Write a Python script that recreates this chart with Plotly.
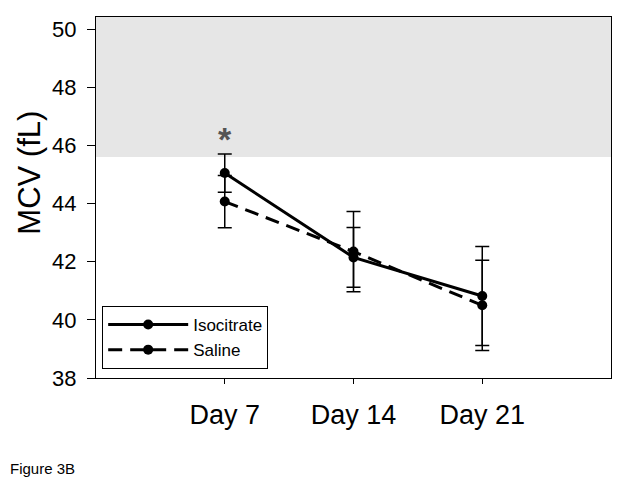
import plotly.graph_objects as go

days = ["Day 7", "Day 14", "Day 21"]
iso_vals = [45.05, 42.15, 40.82]
iso_err = [0.66, 1.03, 1.70]
sal_vals = [44.07, 42.35, 40.50]
sal_err = [0.90, 1.38, 1.55]
y_ticks = [38, 40, 42, 44, 46, 48, 50]
normal_top = 45.6

xpos = [1, 2, 3]

fig = go.Figure()
fig.add_shape(type="rect", xref="paper", yref="y", x0=0, x1=1, y0=normal_top, y1=50.42,
              fillcolor="#e6e6e6", line_width=0, layer="below")

fig.add_trace(go.Scatter(
    x=xpos, y=iso_vals, name="Isocitrate", mode="lines+markers",
    line=dict(color="black", width=3), marker=dict(color="black", size=10),
    error_y=dict(type="data", array=iso_err, color="black", thickness=1.5, width=7),
))
fig.add_trace(go.Scatter(
    x=xpos, y=sal_vals, name="Saline", mode="lines+markers",
    line=dict(color="black", width=3, dash="14px,8px"), marker=dict(color="black", size=10),
    error_y=dict(type="data", array=sal_err, color="black", thickness=1.5, width=7),
))

fig.add_annotation(x=1, y=46.22, text="<b>*</b>", showarrow=False, xref="x", yref="y",
                   font=dict(size=34, color="#555555", family="Arial"))
fig.add_annotation(x=-0.171, y=-0.25, xref="paper", yref="paper", text="Figure 3B",
                   showarrow=False, xanchor="left", yanchor="middle",
                   font=dict(size=15, color="black", family="Arial"))
fig.add_annotation(x=-0.128, y=0.569, xref="paper", yref="paper", text="MCV (fL)",
                   textangle=-90, showarrow=False, xanchor="center", yanchor="middle",
                   font=dict(size=31, color="black", family="Arial"))

fig.update_layout(
    width=616, height=478,
    margin=dict(l=88, r=13, t=9, b=108),
    plot_bgcolor="white", paper_bgcolor="white",
    font=dict(family="Arial", color="black"),
    showlegend=True,
    legend=dict(x=0.012, y=0.025, xanchor="left", yanchor="bottom",
                bordercolor="black", borderwidth=1, bgcolor="white",
                font=dict(size=17), itemwidth=80),
    xaxis=dict(range=[0, 4], tickvals=xpos, ticktext=days, showgrid=False, zeroline=False,
               showline=True, linecolor="black", linewidth=1, mirror=True, automargin=False,
               ticks="outside", ticklen=5, tickcolor="black", tickfont=dict(size=27),
               ticklabelstandoff=8),
    yaxis=dict(range=[38, 50.42], tickvals=y_ticks, showgrid=False, zeroline=False,
               showline=True, linecolor="black", linewidth=1, mirror=True, automargin=False,
               ticks="outside", ticklen=8, tickcolor="black", tickfont=dict(size=22),
               ticklabelstandoff=6),
)

fig.write_html("out.html")
